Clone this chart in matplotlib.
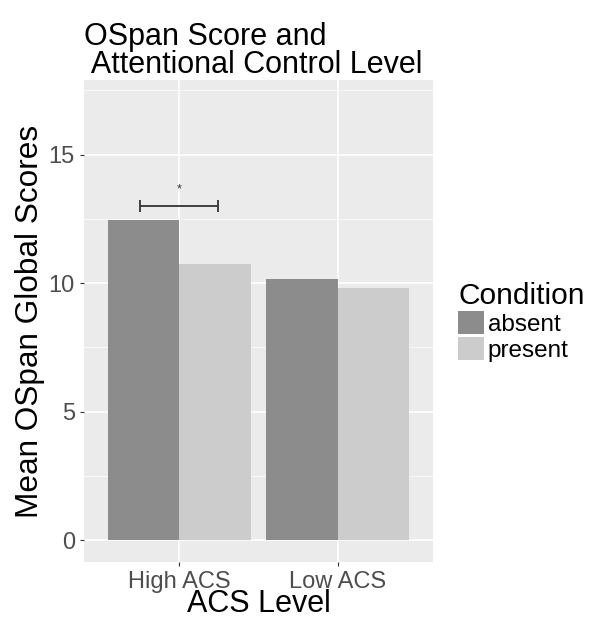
import numpy as np
import matplotlib.pyplot as plt
from matplotlib.patches import Patch

plt.rcParams['font.family'] = ['Liberation Sans', 'DejaVu Sans']

# data
acs_levels = ["High ACS", "Low ACS"]
conditions = ["absent", "present"]
absent_means = [12.45, 10.15]
present_means = [10.75, 9.8]
sig_y = 13.0
sig_span = (-0.245, 0.245)

colors = {"absent": "#8c8c8c", "present": "#cccccc"}

fig = plt.figure(figsize=(5.9, 6.22), dpi=100)
ax = fig.add_axes([84/590, 60/622, (433-84)/590, (562-80)/622])
ax.set_facecolor("#ebebeb")

x = np.arange(len(acs_levels))
w = 0.45
ax.bar(x - w/2, absent_means, width=w, color=colors["absent"], zorder=3)
ax.bar(x + w/2, present_means, width=w, color=colors["present"], zorder=3)

# significance bracket
ax.errorbar(np.mean(sig_span), sig_y, xerr=(sig_span[1]-sig_span[0])/2, fmt="none",
            ecolor="#333333", elinewidth=1.3, capsize=4, capthick=1.3, zorder=4)
ax.text(np.mean(sig_span), sig_y + 0.4, "*", ha="center", va="bottom", fontsize=9, color="#333333")

ax.set_xlim(-0.6, 1.6)
ax.set_ylim(-0.85, 17.9)
ax.set_yticks([0, 5, 10, 15])
ax.set_yticks([2.5, 7.5, 12.5, 17.5], minor=True)
ax.set_xticks(x)
ax.set_xticklabels(acs_levels)
ax.grid(which="major", color="white", linewidth=1.1, zorder=0)
ax.grid(which="minor", axis="y", color="white", linewidth=0.5, zorder=0)
ax.tick_params(which="minor", length=0)
ax.tick_params(which="major", length=3, color="#333333", labelcolor="#4d4d4d", labelsize=17)
for s in ax.spines.values():
    s.set_visible(False)
ax.set_axisbelow(True)

ax.set_xlabel("ACS Level", fontsize=22, labelpad=-3)
ax.set_ylabel("Mean OSpan Global Scores", fontsize=22.7, labelpad=3)
ax.set_title("OSpan Score and\n Attentional Control Level", fontsize=22, loc="left",
             pad=4, linespacing=0.92)

handles = [Patch(facecolor=colors[c], edgecolor="none") for c in conditions]
leg = fig.legend(handles, conditions, title="Condition", loc="upper left",
                 bbox_to_anchor=(458/590, 1 - 282/622), frameon=False,
                 fontsize=17.5, title_fontsize=21.5, handlelength=1.07, handleheight=1.05,
                 handletextpad=0.15, labelspacing=0.05, borderaxespad=0, borderpad=0)
leg._legend_box.align = "left"

fig.savefig("out.png", dpi=100)
